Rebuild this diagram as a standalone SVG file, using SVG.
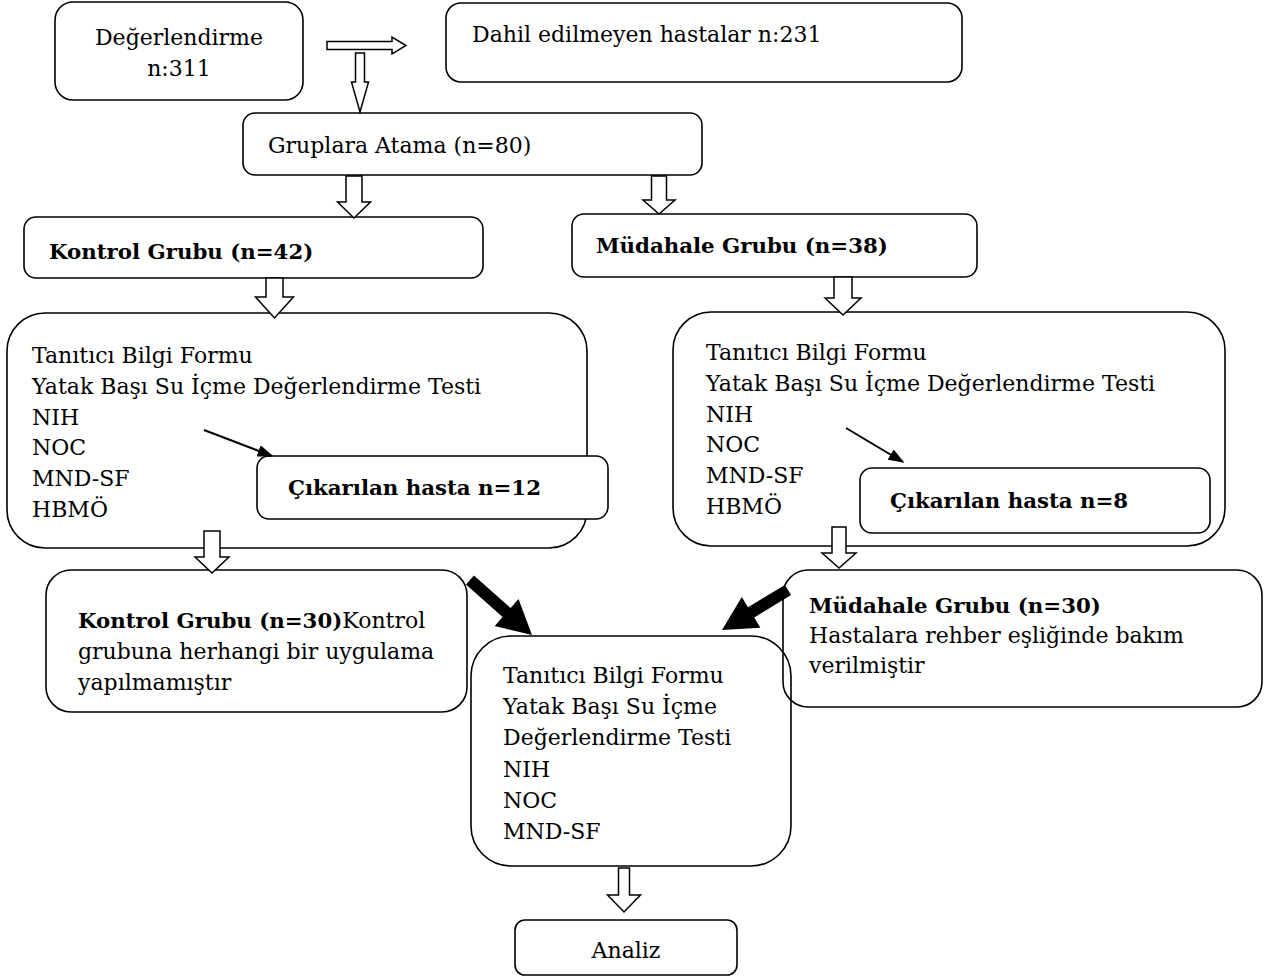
<svg xmlns="http://www.w3.org/2000/svg" width="1265" height="978" viewBox="0 0 1265 978">
<style>
.box{fill:#fff;stroke:#000;stroke-width:1.6}
.open{fill:none;stroke:#000;stroke-width:1.6}
.t{font-family:"DejaVu Serif","Liberation Serif",serif;font-size:22px;fill:#000}
.b{font-family:"DejaVu Serif","Liberation Serif",serif;font-size:21.3px;font-weight:bold;fill:#000}
.ha{fill:#fff;stroke:#000;stroke-width:1.5;stroke-linejoin:miter}
.thin{stroke:#000;stroke-width:2;fill:none}
.heavy{fill:#000;stroke:none}
</style>
<defs>
<marker id="ah" viewBox="0 0 10 10" refX="9" refY="5" markerWidth="16" markerHeight="12" markerUnits="userSpaceOnUse" orient="auto" preserveAspectRatio="none">
<path d="M0,0 L10,5 L0,10 Z" fill="#000"/>
</marker>
</defs>
<rect width="1265" height="978" fill="#fff"/>
<g id="n-degerlendirme"><rect class="box" x="55" y="2" width="248" height="98" rx="18"/>
<text class="t" x="179" y="45" text-anchor="middle">Değerlendirme</text>
<text class="t" x="179" y="76" text-anchor="middle">n:311</text></g>
<g id="n-dahil"><rect class="box" x="446" y="3" width="516" height="79" rx="15"/>
<text class="t" x="472" y="42">Dahil edilmeyen hastalar n:231</text></g>
<g id="n-gruplara"><rect class="box" x="243" y="113" width="459" height="62" rx="12"/>
<text class="t" x="268" y="153">Gruplara Atama (n=80)</text></g>
<g id="n-kontrol42"><rect class="box" x="24" y="217" width="459" height="61" rx="12"/>
<text class="b" x="49" y="259">Kontrol Grubu (n=42)</text></g>
<g id="n-mudahale38"><rect class="box" x="572" y="214" width="405" height="63" rx="12"/>
<text class="b" x="596" y="253">Müdahale Grubu (n=38)</text></g>
<g id="n-left-forms"><rect class="box" x="7" y="313" width="580" height="235" rx="38"/>
<text class="t" x="32" y="363">Tanıtıcı Bilgi Formu</text>
<text class="t" x="32" y="394">Yatak Başı Su İçme Değerlendirme Testi</text>
<text class="t" x="32" y="425">NIH</text>
<text class="t" x="32" y="455">NOC</text>
<text class="t" x="32" y="486">MND-SF</text>
<text class="t" x="32" y="517">HBMÖ</text></g>
<g id="n-right-forms"><rect class="box" x="673" y="312" width="552" height="234" rx="38"/>
<text class="t" x="706" y="360">Tanıtıcı Bilgi Formu</text>
<text class="t" x="706" y="391">Yatak Başı Su İçme Değerlendirme Testi</text>
<text class="t" x="706" y="422">NIH</text>
<text class="t" x="706" y="452">NOC</text>
<text class="t" x="706" y="483">MND-SF</text>
<text class="t" x="706" y="514">HBMÖ</text></g>
<g id="n-cikarilan12"><rect class="box" x="257" y="456" width="351" height="63" rx="12"/>
<text class="b" x="288" y="495">Çıkarılan hasta n=12</text></g>
<g id="n-cikarilan8"><rect class="box" x="860" y="468" width="350" height="65" rx="12"/>
<text class="b" x="890" y="508">Çıkarılan hasta n=8</text></g>
<g id="n-kontrol30"><rect class="box" x="46" y="570" width="421" height="142" rx="25"/>
<text class="t" x="78" y="628"><tspan class="b">Kontrol Grubu (n=30)</tspan>Kontrol</text>
<text class="t" x="78" y="659">grubuna herhangi bir uygulama</text>
<text class="t" x="78" y="690">yapılmamıştır</text></g>
<g id="n-son"><rect class="box" x="471" y="636" width="320" height="230" rx="40"/>
<text class="t" x="503" y="683">Tanıtıcı Bilgi Formu</text>
<text class="t" x="503" y="714">Yatak Başı Su İçme</text>
<text class="t" x="503" y="745">Değerlendirme Testi</text>
<text class="t" x="503" y="777">NIH</text>
<text class="t" x="503" y="808">NOC</text>
<text class="t" x="503" y="839">MND-SF</text></g>
<g id="n-mudahale30"><rect class="open" x="783" y="570" width="479" height="137" rx="25"/>
<text class="b" x="809" y="613">Müdahale Grubu (n=30)</text>
<text class="t" x="809" y="643">Hastalara rehber eşliğinde bakım</text>
<text class="t" x="809" y="673">verilmiştir</text></g>
<g id="n-analiz"><rect class="box" x="515" y="920" width="222" height="55" rx="10"/>
<text class="t" x="626" y="958" text-anchor="middle">Analiz</text></g>
<g id="connectors">
<path class="ha" d="M355.5,53 H364.5 V82 H368.5 L360,112 L351.5,82 H355.5 Z"/>
<path class="ha" d="M327,41.5 H392 V37 L406,45.5 L392,54 V49.5 H327 Z"/>
<path class="ha" d="M346,176 H362 V202 H370.5 L354,218 L337.5,202 H346 Z"/>
<path class="ha" d="M651.5,176 H666.5 V200 H675 L659,214 L643,200 H651.5 Z"/>
<path class="ha" d="M266,278 H283 V297 H293.5 L274.5,318 L255.5,297 H266 Z"/>
<path class="ha" d="M834,277 H852 V298 H861 L843,315 L825,298 H834 Z"/>
<path class="ha" d="M204,531 H220 V557 H229 L212,573 L195,557 H204 Z"/>
<path class="ha" d="M832,527 H846 V553 H856 L839,568 L822,553 H832 Z"/>
<path class="ha" d="M618.5,868 H629.5 V895 H640.5 L624,912 L607.5,895 H618.5 Z"/>
<line class="thin" x1="204" y1="430" x2="272" y2="456" marker-end="url(#ah)"/>
<line class="thin" x1="846" y1="428" x2="903" y2="462" marker-end="url(#ah)"/>
<polygon class="heavy" points="474,575.5 510.6,608 518.5,599 532,635 494.7,626 502.6,617 466,584.5"/>
<polygon class="heavy" points="784.9,584.9 748,607.3 741.8,597 722,630 760.4,627.8 754.2,617.5 791.1,595.1"/>
</g>
</svg>
